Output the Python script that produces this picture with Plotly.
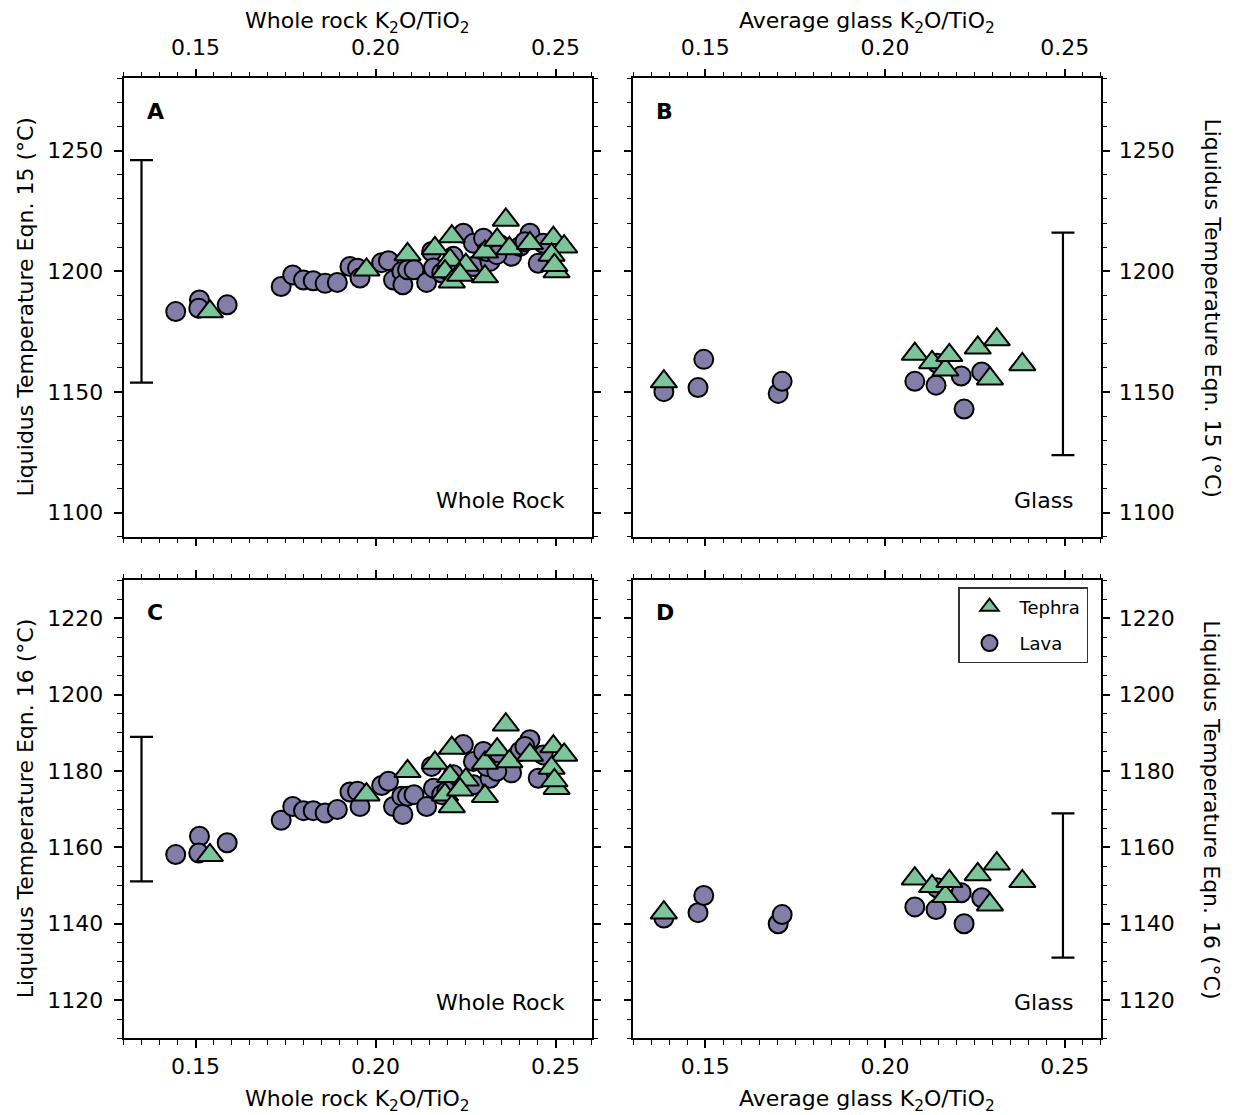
import plotly.graph_objects as go

# ---------------- data ----------------
# Whole rock K2O/TiO2 (lava)
wr_lava_x = [0.1445, 0.1511, 0.1509, 0.1588, 0.1738, 0.1770, 0.1800, 0.1827, 0.1860, 0.1894,
             0.1929, 0.1950, 0.1957, 0.2017, 0.2036, 0.2050, 0.2073, 0.2076, 0.2089, 0.2107,
             0.2142, 0.2156, 0.2161, 0.2184, 0.2244, 0.2272, 0.2300, 0.2216, 0.2272, 0.2318,
             0.2346, 0.2378, 0.2401, 0.2429, 0.2452, 0.2466, 0.2415, 0.2309, 0.2198, 0.2337]
wr_lava_t15 = [1183.3, 1188.1, 1184.7, 1186.1, 1193.7, 1198.5, 1196.4, 1196.1, 1195.0, 1195.4,
               1202.0, 1201.3, 1197.2, 1203.6, 1204.4, 1196.4, 1199.9, 1194.4, 1200.6, 1200.6,
               1195.4, 1208.2, 1201.4, 1199.3, 1215.8, 1211.6, 1213.7, 1206.2, 1202.0, 1204.1,
               1211.0, 1206.2, 1210.3, 1215.8, 1203.3, 1211.6, 1212.3, 1208.2, 1200.6, 1206.9]
wr_lava_t16 = [1158.1, 1162.9, 1158.5, 1161.2, 1167.1, 1170.7, 1169.6, 1169.6, 1169.0, 1169.9,
               1174.5, 1174.7, 1170.7, 1176.2, 1177.3, 1170.7, 1173.4, 1168.6, 1173.4, 1173.8,
               1170.7, 1181.2, 1175.5, 1173.8, 1186.9, 1182.5, 1185.1, 1179.0, 1176.4, 1178.1,
               1183.4, 1179.5, 1185.1, 1188.2, 1178.1, 1184.2, 1186.4, 1181.2, 1174.7, 1179.9]

# Whole rock K2O/TiO2 (tephra)
wr_teph_x = [0.1540, 0.1975, 0.2089, 0.2165, 0.2212, 0.2207, 0.2193, 0.2212, 0.2251, 0.2235,
             0.2304, 0.2304, 0.2338, 0.2362, 0.2372, 0.2429, 0.2494, 0.2524, 0.2489, 0.2503, 0.2497]
wr_teph_t15 = [1183.3, 1200.6, 1207.0, 1209.5, 1214.4, 1204.7, 1199.9, 1195.7, 1202.6, 1198.5,
               1208.1, 1197.8, 1213.0, 1221.3, 1209.5, 1211.6, 1213.7, 1210.2, 1206.8, 1199.9, 1202.5]
wr_teph_t16 = [1157.9, 1173.8, 1179.9, 1182.1, 1186.0, 1178.6, 1173.8, 1170.7, 1177.7, 1175.1,
               1182.1, 1173.4, 1185.6, 1192.1, 1182.5, 1184.2, 1186.4, 1184.2, 1180.8, 1175.5, 1177.5]

# Average glass K2O/TiO2 (lava)
gl_lava_x = [0.1385, 0.1480, 0.1496, 0.1703, 0.1714, 0.2083, 0.2142, 0.2212, 0.2269, 0.2220, 0.2145]
gl_lava_t15 = [1150.1, 1151.8, 1163.5, 1149.4, 1154.4, 1154.4, 1152.8, 1156.6, 1158.3, 1142.9, 1161.9]
gl_lava_t16 = [1141.5, 1142.9, 1147.4, 1140.0, 1142.4, 1144.4, 1143.7, 1148.1, 1146.8, 1140.0, 1149.4]

# Average glass K2O/TiO2 (tephra)
gl_teph_x = [0.1385, 0.2083, 0.2131, 0.2168, 0.2179, 0.2258, 0.2311, 0.2292, 0.2382]
gl_teph_t15 = [1154.3, 1165.7, 1162.2, 1159.2, 1165.2, 1168.3, 1171.7, 1155.5, 1161.4]
gl_teph_t16 = [1142.9, 1151.8, 1149.8, 1147.2, 1151.1, 1152.9, 1155.7, 1145.0, 1151.1]

# representative uncertainty bars
wr_err_x = [0.135]
gl_err_x = [0.2495]
wr_err_t15_center = [1200.0]
gl_err_t15_center = [1169.9]
err_t15 = [46.1]
wr_err_t16_center = [1170.0]
gl_err_t16_center = [1150.0]
err_t16 = [18.9]

x_tickvals = [0.15, 0.20, 0.25]
y15_tickvals = [1100, 1150, 1200, 1250]
y16_tickvals = [1120, 1140, 1160, 1180, 1200, 1220]

panel_letters = ["A", "B", "C", "D"]

# ---------------- style ----------------
LAVA = "#827ea7"
TEPH = "#7cc49a"
FONT = "DejaVu Sans"
OFF = 8                      # page body margin offset
W, H = 1236 - OFF, 1115 - OFF


def px(v):
    return (v - OFF) / W


def py(v):
    return 1 - (v - OFF) / H


fig = go.Figure()


def add_panel(xa, ya, lx, ly, tx, ty, ex, ey, ee, show):
    fig.add_trace(go.Scatter(
        x=lx, y=ly, mode="markers", name="Lava", showlegend=show, legendrank=2,
        legendgroup="lava", xaxis=xa, yaxis=ya,
        marker=dict(symbol="circle", size=19, color=LAVA, line=dict(color="black", width=2))))
    fig.add_trace(go.Scatter(
        x=tx, y=ty, mode="markers", name="Tephra", showlegend=show, legendrank=1,
        legendgroup="teph", xaxis=xa, yaxis=ya,
        marker=dict(symbol="triangle-up", size=23, color=TEPH, line=dict(color="black", width=2))))
    fig.add_trace(go.Scatter(
        x=ex, y=ey, mode="markers", showlegend=False, xaxis=xa, yaxis=ya,
        marker=dict(size=1, color="rgba(0,0,0,0)"),
        error_y=dict(type="data", array=ee, visible=True, color="black", thickness=2.2, width=11.5)))


add_panel("x", "y", wr_lava_x, wr_lava_t15, wr_teph_x, wr_teph_t15,
          wr_err_x, wr_err_t15_center, err_t15, False)
add_panel("x2", "y2", gl_lava_x, gl_lava_t15, gl_teph_x, gl_teph_t15,
          gl_err_x, gl_err_t15_center, err_t15, False)
add_panel("x3", "y3", wr_lava_x, wr_lava_t16, wr_teph_x, wr_teph_t16,
          wr_err_x, wr_err_t16_center, err_t16, False)
add_panel("x4", "y4", gl_lava_x, gl_lava_t16, gl_teph_x, gl_teph_t16,
          gl_err_x, gl_err_t16_center, err_t16, True)

xdomL = [px(123.5), px(591.5)]
xdomR = [px(633.3), px(1100.7)]
ydomT = [py(536.7), py(78.3)]
ydomB = [py(1038.3), py(580.0)]


def xaxis(domain, anchor, side):
    return dict(domain=domain, anchor=anchor, side=side, range=[0.13, 0.26],
                tickvals=x_tickvals, tickformat=".2f",
                ticks="outside", ticklen=8, tickwidth=1.5, tickcolor="black",
                ticklabelstandoff=5 if side == "top" else 0,
                showline=True, linewidth=1.5, linecolor="black", mirror="ticks",
                showgrid=False, zeroline=False,
                tickfont=dict(family=FONT, size=22, color="black"),
                minor=dict(ticks="outside", ticklen=4.5, tickwidth=1.2, tickcolor="black",
                           dtick=0.005, tick0=0.15, showgrid=False))


def yaxis(domain, anchor, side, rng, tv, mdt):
    return dict(domain=domain, anchor=anchor, side=side, range=rng, tickvals=tv,
                ticks="outside", ticklen=8, tickwidth=1.5, tickcolor="black",
                ticklabelstandoff=6 if side == "left" else 4,
                showline=True, linewidth=1.5, linecolor="black", mirror="ticks",
                showgrid=False, zeroline=False,
                tickfont=dict(family=FONT, size=22, color="black"),
                minor=dict(ticks="outside", ticklen=4.5, tickwidth=1.2, tickcolor="black",
                           dtick=mdt, tick0=rng[0], showgrid=False))


layout = dict(
    width=W, height=H, margin=dict(l=0, r=0, t=0, b=0),
    paper_bgcolor="white", plot_bgcolor="white",
    font=dict(family=FONT, size=22, color="black"),
    xaxis=xaxis(xdomL, "y", "top"),
    xaxis2=xaxis(xdomR, "y2", "top"),
    xaxis3=xaxis(xdomL, "y3", "bottom"),
    xaxis4=xaxis(xdomR, "y4", "bottom"),
    yaxis=yaxis(ydomT, "x", "left", [1090, 1280], y15_tickvals, 10),
    yaxis2=yaxis(ydomT, "x2", "right", [1090, 1280], y15_tickvals, 10),
    yaxis3=yaxis(ydomB, "x3", "left", [1110, 1230], y16_tickvals, 5),
    yaxis4=yaxis(ydomB, "x4", "right", [1110, 1230], y16_tickvals, 5),
    legend=dict(x=px(958), y=py(587), xanchor="left", yanchor="top",
                bordercolor="#333333", borderwidth=1.5, bgcolor="white",
                font=dict(family=FONT, size=18, color="black"),
                itemsizing="trace", itemwidth=50, tracegroupgap=10),
    showlegend=True,
)
fig.update_layout(**layout)

ann = []
for letter, xr, yr in zip(panel_letters, ["x", "x2", "x3", "x4"], ["y", "y2", "y3", "y4"]):
    ann.append(dict(text="<b>%s</b>" % letter, xref=xr + " domain", yref=yr + " domain",
                    x=0.0675, y=0.9285, xanchor="center", yanchor="middle", showarrow=False,
                    font=dict(family=FONT, size=22, color="black")))
for txt, xr, yr in [("Whole Rock", "x", "y"), ("Glass", "x2", "y2"),
                    ("Whole Rock", "x3", "y3"), ("Glass", "x4", "y4")]:
    ann.append(dict(text=txt, xref=xr + " domain", yref=yr + " domain",
                    x=0.948, y=0.078, xanchor="right", yanchor="middle", showarrow=False,
                    font=dict(family=FONT, size=22, color="black")))

wr_title = "Whole rock K<sub>2</sub>O/TiO<sub>2</sub>"
gl_title = "Average glass K<sub>2</sub>O/TiO<sub>2</sub>"
cxL = (xdomL[0] + xdomL[1]) / 2
cxR = (xdomR[0] + xdomR[1]) / 2
for txt, cx, cy in [(wr_title, cxL, py(23)), (gl_title, cxR, py(23)),
                    (wr_title, cxL, py(1100)), (gl_title, cxR, py(1100))]:
    ann.append(dict(text=txt, xref="paper", yref="paper", x=cx, y=cy,
                    xanchor="center", yanchor="middle", showarrow=False,
                    font=dict(family=FONT, size=22, color="black")))

cyT = (ydomT[0] + ydomT[1]) / 2
cyB = (ydomB[0] + ydomB[1]) / 2
for txt, cx, cy, ang in [("Liquidus Temperature Eqn. 15 (°C)", px(25), cyT, -90),
                         ("Liquidus Temperature Eqn. 16 (°C)", px(25), cyB, -90),
                         ("Liquidus Temperature Eqn. 15 (°C)", px(1212), cyT, 90),
                         ("Liquidus Temperature Eqn. 16 (°C)", px(1212), cyB, 90)]:
    ann.append(dict(text=txt, xref="paper", yref="paper", x=cx, y=cy, textangle=ang,
                    xanchor="center", yanchor="middle", showarrow=False,
                    font=dict(family=FONT, size=22, color="black")))

fig.update_layout(annotations=ann)
fig.write_html("out.html")
